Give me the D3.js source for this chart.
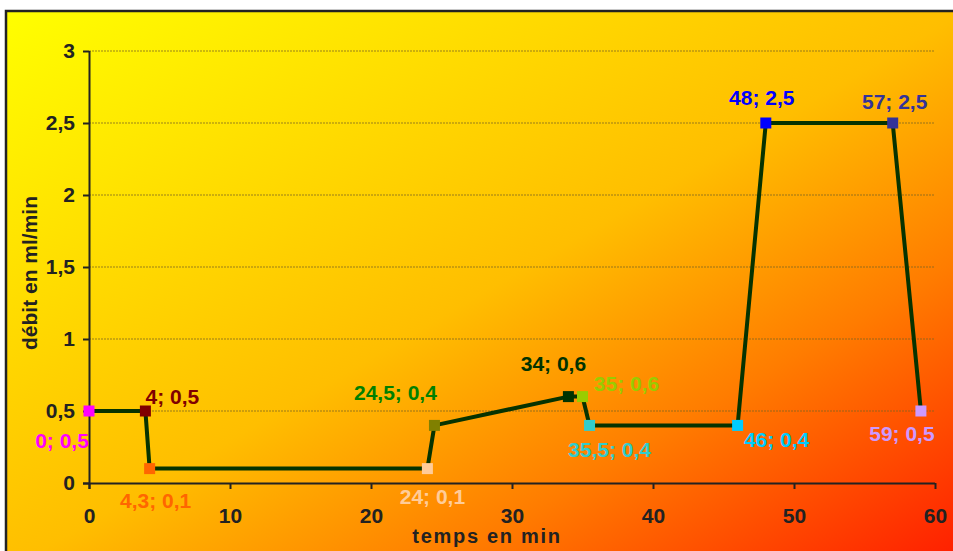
<!DOCTYPE html>
<html>
<head>
<meta charset="utf-8">
<script src="https://cdn.jsdelivr.net/npm/d3@7"></script>
<style>
  html, body { margin: 0; padding: 0; background: #ffffff; }
  svg { display: block; }
  text { font-family: "Liberation Sans", Arial, sans-serif; font-weight: bold; }
</style>
</head>
<body>
<svg id="chart" width="953" height="551"></svg>
<script>
// ---- data ----
const times = [0, 4, 4.3, 24, 24.5, 34, 35, 35.5, 46, 48, 57, 59];
const flows = [0.5, 0.5, 0.1, 0.1, 0.4, 0.6, 0.6, 0.4, 0.4, 2.5, 2.5, 0.5];
const pointColors = ["#FF00FF", "#800000", "#FF6600", "#FFCC99", "#808000", "#003300",
                     "#99CC00", "#33CCCC", "#00CCFF", "#0000FF", "#333399", "#CC99FF"];
const labelColors = ["#FF00FF", "#800000", "#FF6600", "#FFCC99", "#008000", "#003300",
                     "#99CC00", "#33CCCC", "#00CCFF", "#0000FF", "#333399", "#CC99FF"];
const xTicks = [0, 10, 20, 30, 40, 50, 60];
const yTicks = [0, 0.5, 1, 1.5, 2, 2.5, 3];
const xTitle = "temps en min";
const yTitle = "débit en ml/min";
// label placement (offset of label centre from its point, px)
const labelOffsets = [[-27, 29], [27, -15], [6, 32], [5, 28], [-39, -33], [-15, -33],
                      [44, -13], [20, 24], [39, 14], [-4, -26], [2, -22], [-19, 22]];

const fr = d3.formatLocale({decimal: ",", thousands: " ", grouping: [3], currency: ["", "€"]});
const fmt = fr.format("~g");

const svg = d3.select("#chart");
const margin = {left: 89, right: 18, top: 51, bottom: 68};
const W = 953, H = 551;

const x = d3.scaleLinear().domain([0, 60]).range([margin.left, W - margin.right]);
const y = d3.scaleLinear().domain([0, 3]).range([H - margin.bottom, margin.top]);

// background gradient
const defs = svg.append("defs");
const grad = defs.append("linearGradient").attr("id", "bg")
  .attr("x1", 0).attr("y1", 0).attr("x2", 1).attr("y2", 1);
[[0, "#FFFF00"], [0.5, "#FFBE00"], [0.72, "#FF7C00"], [1, "#FF1800"]].forEach(([o, c]) =>
  grad.append("stop").attr("offset", o).attr("stop-color", c));

svg.append("rect").attr("x", 6).attr("y", 11).attr("width", 960).attr("height", 560)
  .attr("fill", "url(#bg)").attr("stroke", "#222").attr("stroke-width", 2.5);

// gridlines
svg.append("g").selectAll("line").data(yTicks.filter(d => d > 0)).join("line")
  .attr("x1", x(0)).attr("x2", x(60))
  .attr("y1", d => y(d)).attr("y2", d => y(d))
  .attr("stroke", "#7a6420").attr("stroke-opacity", 0.75)
  .attr("stroke-width", 1.2).attr("stroke-dasharray", "2,1");

// axes
const xAxis = svg.append("g").attr("transform", `translate(0,${y(0)})`)
  .call(d3.axisBottom(x).tickValues(xTicks).tickFormat(fmt).tickSize(6).tickSizeOuter(0).tickPadding(19));
const yAxis = svg.append("g").attr("transform", `translate(${x(0)},0)`)
  .call(d3.axisLeft(y).tickValues(yTicks).tickFormat(fmt).tickSize(6).tickSizeOuter(0).tickPadding(8));
[xAxis, yAxis].forEach(a => {
  a.select(".domain").attr("stroke", "#222").attr("stroke-width", 2);
  a.selectAll(".tick line").attr("stroke", "#222").attr("stroke-width", 2);
  a.selectAll(".tick text").attr("fill", "#222").style("font-size", "21px")
    .style("font-family", "'Liberation Sans', Arial, sans-serif").style("font-weight", "bold");
});
yAxis.select(".domain").attr("d", `M0.5,${y(0) + 6}V${y(3)}`);
xAxis.select(".domain").attr("d", `M${x(0) - 6},0.5H${x(60)}`);

// axis titles
svg.append("text").attr("x", 487).attr("y", 543).attr("text-anchor", "middle")
  .attr("fill", "#222").style("font-size", "20px").style("letter-spacing", "1.7px").text(xTitle);
svg.append("text").attr("transform", `translate(37,273) rotate(-90)`).attr("text-anchor", "middle")
  .attr("fill", "#222").style("font-size", "21px").text(yTitle);

// line
const pts = times.map((t, i) => ({t, v: flows[i], i}));
svg.append("path").datum(pts)
  .attr("d", d3.line().x(d => x(d.t)).y(d => y(d.v)))
  .attr("fill", "none").attr("stroke", "#063300").attr("stroke-width", 4).attr("stroke-linejoin", "round");

// markers
const ms = 11;
svg.append("g").selectAll("rect").data(pts).join("rect")
  .attr("x", d => x(d.t) - ms / 2).attr("y", d => y(d.v) - ms / 2)
  .attr("width", ms).attr("height", ms)
  .attr("fill", d => pointColors[d.i]);

// data labels
svg.append("g").selectAll("text").data(pts).join("text")
  .attr("x", d => x(d.t) + labelOffsets[d.i][0])
  .attr("y", d => y(d.v) + labelOffsets[d.i][1])
  .attr("text-anchor", "middle").attr("dominant-baseline", "central")
  .attr("fill", d => labelColors[d.i]).style("font-size", "21px")
  .text(d => `${fmt(d.t)}; ${fmt(d.v)}`);
</script>
</body>
</html>
